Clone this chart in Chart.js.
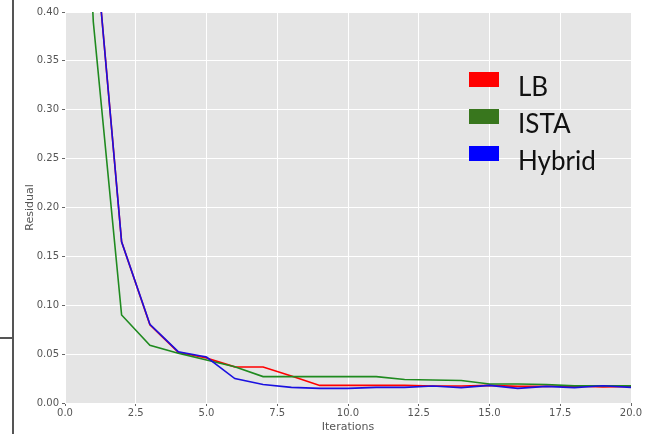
<!DOCTYPE html>
<html lang="en">
  <head>
    <meta charset="UTF-8" />
    <title>Residual</title>
    <script src="https://cdn.jsdelivr.net/npm/chart.js"></script>
    <style>
      html, body { margin: 0; padding: 0; background: #fff; }
      #wrap { position: relative; width: 645px; height: 434px; }
      #legenda { position: absolute; left: 469px; top: 61px; font-family: Lato, sans-serif; font-size: 26px; color: #111; }
      .item { display: flex; align-items: center; height: 37px; }
      .cor { width: 30px; height: 15px; margin-right: 19px; }
      .txt { position: relative; top: 6px; }
      .borda-v { position: absolute; left: 12px; top: 0; width: 2px; height: 434px; background: #555; }
      .borda-h { position: absolute; left: 0; top: 337px; width: 13px; height: 2px; background: #555; }
    </style>
  </head>
  <body>
    <div id="wrap">
      <canvas id="myChart" width="645" height="434"></canvas>
      <div class="borda-v"></div>
      <div class="borda-h"></div>
      <div id="legenda"></div>
    </div>
<script>
// iteracoes 0..20
const iteracoes = [0, 1, 2, 3, 4, 5, 6, 7, 8, 9, 10, 11, 12, 13, 14, 15, 16, 17, 18, 19, 20];
const lb     = [1.0, 0.493, 0.165, 0.080, 0.052, 0.046, 0.037, 0.0368, 0.0276, 0.018, 0.018, 0.018, 0.018, 0.0174, 0.0174, 0.018, 0.017, 0.017, 0.0174, 0.0163, 0.017];
const ista   = [1.0, 0.39, 0.090, 0.059, 0.051, 0.044, 0.037, 0.027, 0.027, 0.027, 0.027, 0.027, 0.024, 0.0235, 0.023, 0.0194, 0.0194, 0.019, 0.0175, 0.0175, 0.0175];
const hybrid = [1.0, 0.493, 0.165, 0.0805, 0.0525, 0.047, 0.025, 0.019, 0.016, 0.015, 0.015, 0.016, 0.016, 0.0174, 0.0157, 0.018, 0.015, 0.017, 0.0157, 0.0177, 0.016];
const nomes = ["LB", "ISTA", "Hybrid"];
const yTicks = [0, 0.05, 0.10, 0.15, 0.20, 0.25, 0.30, 0.35, 0.40];
const xTicks = [0, 2.5, 5, 7.5, 10, 12.5, 15, 17.5, 20];

const coresLinha = ["#ff0000", "#1f8a1f", "#1a10e0"];
const coresLegenda = ["#ff0000", "#38761d", "#0000ff"];

const fundo = {
  id: "fundo",
  beforeDraw(chart) {
    const a = chart.chartArea;
    chart.ctx.save();
    chart.ctx.fillStyle = "#e5e5e5";
    chart.ctx.fillRect(a.left, a.top, a.right - a.left, a.bottom - a.top);
    chart.ctx.restore();
  }
};

const series = [lb, ista, hybrid];
new Chart(document.getElementById("myChart"), {
  type: "line",
  data: {
    datasets: series.map((s, i) => ({
      label: nomes[i],
      data: iteracoes.map((x, j) => ({ x: x, y: s[j] })),
      borderColor: coresLinha[i],
      borderWidth: 1.6,
      pointRadius: 0,
      tension: 0,
      order: series.length - i   // Hybrid por cima
    }))
  },
  options: {
    responsive: false,
    animation: false,
    layout: { padding: { top: 12, right: 14, left: 24, bottom: 0 } },
    scales: {
      x: {
        type: "linear",
        min: 0, max: 20,
        afterBuildTicks: s => { s.ticks = xTicks.map(v => ({ value: v })); },
        afterFit: s => { s.height = 31; },
        grid: { color: "#ffffff", lineWidth: 1, tickColor: "#666", tickLength: 3 },
        border: { display: false },
        ticks: { color: "#555", font: { family: "DejaVu Sans", size: 10 }, padding: 1, maxRotation: 0,
                 callback: v => v.toFixed(1) },
        title: { display: true, text: "Iterations", color: "#555", font: { family: "DejaVu Sans", size: 11 }, padding: { top: 0, bottom: 0 } }
      },
      y: {
        min: 0, max: 0.40,
        afterBuildTicks: s => { s.ticks = yTicks.map(v => ({ value: v })); },
        afterFit: s => { s.width = 41; },
        grid: { color: "#ffffff", lineWidth: 1, tickColor: "#666", tickLength: 3 },
        border: { display: false },
        ticks: { color: "#555", font: { family: "DejaVu Sans", size: 10 }, padding: 3,
                 callback: v => v.toFixed(2) },
        title: { display: true, text: "Residual", color: "#555", font: { family: "DejaVu Sans", size: 11 }, padding: { top: 0, bottom: 0 } }
      }
    },
    plugins: {
      legend: { display: false },
      tooltip: { enabled: false }
    }
  },
  plugins: [fundo]
});

const leg = document.getElementById("legenda");
nomes.forEach((n, i) => {
  const d = document.createElement("div");
  d.className = "item";
  d.innerHTML = '<span class="cor" style="background:' + coresLegenda[i] + '"></span><span class="txt">' + n + "</span>";
  leg.appendChild(d);
});
</script>
  </body>
</html>
